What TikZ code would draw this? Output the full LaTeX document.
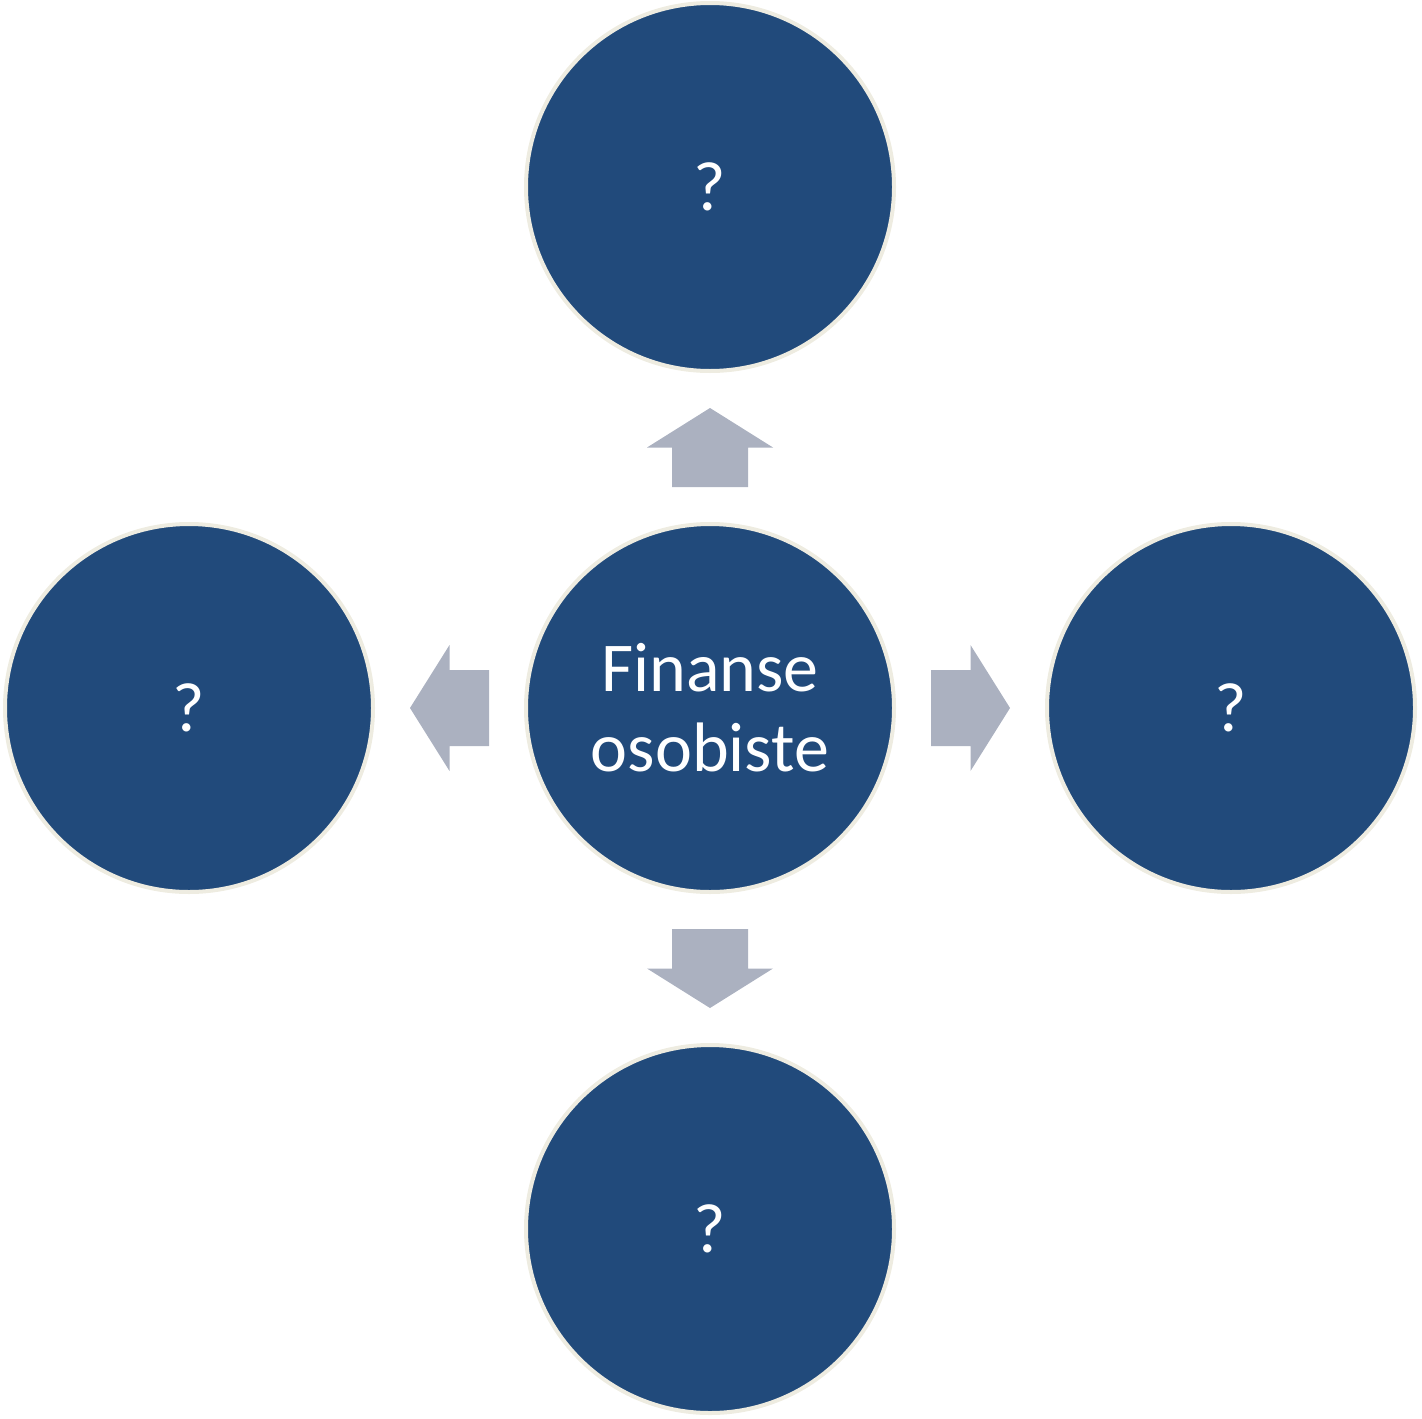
\documentclass[tikz,border=0pt]{standalone}
\usepackage{fontspec}
\setmainfont{Carlito}
\usetikzlibrary{calc}
\definecolor{circfill}{RGB}{33,74,123}
\definecolor{circline}{RGB}{238,236,225}
\definecolor{arrowfill}{RGB}{171,177,192}
\begin{document}
\begin{tikzpicture}[x=0.5pt,y=-0.5pt,
  bubble/.style={circle,fill=circfill,draw=circline,line width=2pt,
    minimum size=184pt,inner sep=0pt,text=white,align=center,
    font=\fontsize{35}{40}\selectfont},
  blockarrow/.pic={\fill[arrowfill] (-39.5,-38) -- (0,-38) -- (0,-63) -- (39.5,0)
    -- (0,63) -- (0,38) -- (-39.5,38) -- cycle;}]
\useasboundingbox (0,0) rectangle (1422,1418);
\node[bubble] (c) at (710,708) {Finanse\\osobiste};
\node[bubble] (t) at (710,187) {?};
\node[bubble] (l) at (189,708) {?};
\node[bubble] (r) at (1231,708) {?};
\node[bubble] (b) at (710,1229) {?};
\path ($(c)!0.5!(t)$) pic[rotate=90] {blockarrow};
\path ($(c)!0.5!(b)$) pic[rotate=-90] {blockarrow};
\path ($(c)!0.5!(l)$) pic[rotate=180] {blockarrow};
\path ($(c)!0.5!(r)$) pic {blockarrow};
\end{tikzpicture}
\end{document}
